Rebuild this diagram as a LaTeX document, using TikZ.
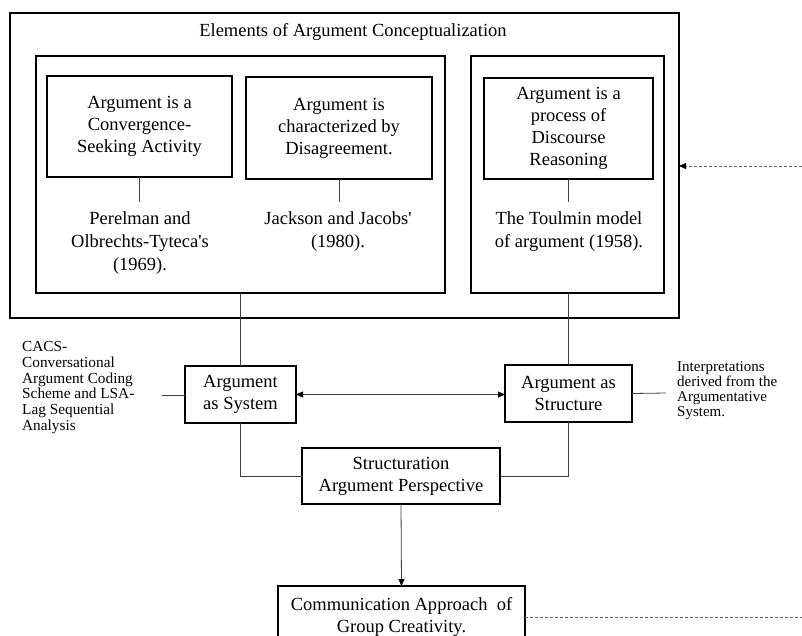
\documentclass[tikz,border=0pt]{standalone}
\usepackage{fontspec}
\setmainfont{Liberation Serif}
\usetikzlibrary{arrows.meta}
\begin{document}
\begin{tikzpicture}[x=1pt,y=-1pt,
  frame/.style={draw=black,line width=1.3pt,inner sep=0pt,outer sep=0pt},
  box/.style={frame,align=center,font=\fontsize{18.5}{22}\selectfont},
  txt/.style={align=center,inner sep=0pt,font=\fontsize{18.5}{22.8}\selectfont},
  smalltxt/.style={align=left,inner sep=0pt,font=\fontsize{15.3}{15.8}\selectfont},
  smallertxt/.style={align=left,inner sep=0pt,font=\fontsize{15}{15}\selectfont},
  conn/.style={draw=black!75,line width=0.8pt},
  tip/.style={-{Triangle[length=7pt,width=6pt,color=black]}},
  dtip/.style={{Triangle[length=7pt,width=6pt,color=black]}-{Triangle[length=7pt,width=6pt,color=black]}},
  dashline/.style={draw=black!60,line width=0.9pt,dash pattern=on 3pt off 2pt}]
\useasboundingbox (0,0) rectangle (802,635);
\clip (0,0) rectangle (802,635);
% frames
\node[frame,minimum width=669pt,minimum height=305pt] (outer) at (344.5,165.5) {};
\node[frame,minimum width=409pt,minimum height=237pt] (leftin) at (240.5,174.5) {};
\node[frame,minimum width=193pt,minimum height=237pt] (rightin) at (567.5,174.5) {};
\node[txt] (title) at (353,32) {Elements of Argument Conceptualization};
% concept boxes
\node[box,minimum width=185pt,minimum height=101pt] (A) at (139.5,126.5) {Argument is a\\Convergence-\\Seeking Activity};
\node[box,minimum width=186pt,minimum height=102pt] (B) at (339,128) {Argument is\\characterized by\\Disagreement.};
\node[box,minimum width=169pt,minimum height=101pt] (C) at (568.5,128.5) {Argument is a\\process of\\Discourse\\Reasoning};
% citations
\node[txt] (citeA) at (140,243) {Perelman and\\Olbrechts-Tyteca\textquotesingle s\\(1969).};
\node[txt] (citeB) at (338,231.5) {Jackson and Jacobs\textquotesingle\\(1980).};
\node[txt] (citeC) at (569,231.5) {The Toulmin model\\of argument (1958).};
\coordinate (cA) at (139.5,202);
\coordinate (cB) at (339,202);
\coordinate (cC) at (568.5,202);
\draw[conn] (A.south) -- (cA);
\draw[conn] (B.south) -- (cB);
\draw[conn] (C.south) -- (cC);
% middle
\node[box,minimum width=111pt,minimum height=57pt] (sys) at (240.5,394.5) {Argument\\as System};
\node[box,minimum width=127pt,minimum height=57pt] (str) at (568.5,393.5) {Argument as\\Structure};
\node[box,minimum width=198pt,minimum height=56pt] (stn) at (401,476) {Structuration\\Argument Perspective};
\node[box,minimum width=247pt,minimum height=62pt] (comm) at (401.5,617) {Communication Approach~ of\\Group Creativity.};
\draw[conn] (leftin.south) -- (sys.north);
\draw[conn] (rightin.south -| str.north) -- (str.north);
\draw[conn] (sys.south) |- (stn.west);
\draw[conn] (str.south) |- (stn.east);
\draw[conn,tip] (stn.south) -- (comm.north);
\draw[conn,dtip] (sys.east) -- (sys.east -| str.west);
% side notes
\node[smalltxt,anchor=west] (noteL) at (22,387.5) {CACS-\\Conversational\\Argument Coding\\Scheme and LSA-\\Lag Sequential\\Analysis};
\node[smallertxt,anchor=west] (noteR) at (677,390.5) {Interpretations\\derived from the\\Argumentative\\System.};
\coordinate (lA) at (162,395);
\coordinate (rA) at (666,393);
\draw[conn] (lA) -- (sys.west |- lA);
\draw[conn] (str.east) -- (rA);
% dashed
\coordinate (dA) at (802,166);
\coordinate (dB) at (802,617);
\draw[dashline,tip] (dA) -- (outer.east |- dA);
\draw[dashline] (comm.east) -- (dB);
\end{tikzpicture}
\end{document}
